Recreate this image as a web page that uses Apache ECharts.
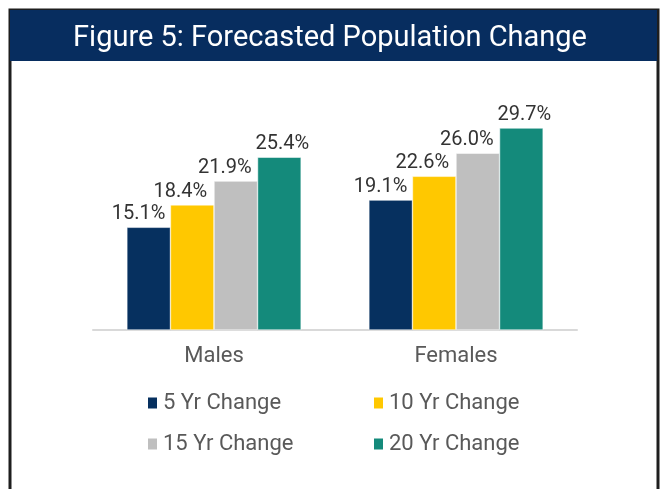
<!DOCTYPE html>
<html>
<head>
<meta charset="utf-8">
<script src="https://cdn.jsdelivr.net/npm/echarts@6/dist/echarts.min.js"></script>
<style>
  html, body { margin: 0; padding: 0; background: #fff; }
  #chart { width: 660px; height: 489px; }
</style>
</head>
<body>
<div id="chart"></div>
<script>
// 数据
const categories = ['Males', 'Females'];
const seriesNames = ['5 Yr Change', '10 Yr Change', '15 Yr Change', '20 Yr Change'];
const change5 = [15.1, 19.1];
const change10 = [18.4, 22.6];
const change15 = [21.9, 26.0];
const change20 = [25.4, 29.7];
const colors = ['#06305f', '#ffc800', '#bfbfbf', '#148a7b'];
// 标签水平偏移（避免重叠）
const labelShift = [-10, -12, -11, 3];

let chart = echarts.init(document.getElementById('chart'));

let values = [change5, change10, change15, change20];
let series = [];
for (let i = 0; i < seriesNames.length; i++) {
    series.push({
        name: seriesNames[i],
        type: 'bar',
        data: values[i],
        barGap: '0%',
        barCategoryGap: '28%',
        itemStyle: { color: colors[i], borderColor: '#fff', borderWidth: 0.5 },
        label: {
            show: true,
            position: 'top',
            distance: 3,
            offset: [labelShift[i], 0],
            color: '#333',
            fontSize: 20,
            fontFamily: 'Roboto',
            formatter: function (p) { return p.value.toFixed(1) + '%'; }
        }
    });
}

let option = {
    animation: false,
    backgroundColor: '#fff',
    title: {
        text: 'Figure 5: Forecasted Population Change',
        left: 'center',
        top: 24,
        padding: 0,
        textStyle: { color: '#fff', fontSize: 29, fontWeight: 'normal', fontFamily: 'Roboto' }
    },
    graphic: [
        // 外框
        { type: 'rect', z: -1, shape: { x: 10, y: 10, width: 648, height: 500 },
          style: { fill: '#fff', stroke: '#1e1e1e', lineWidth: 3 } },
        // 标题背景
        { type: 'rect', z: 0, shape: { x: 10, y: 10, width: 647, height: 51 },
          style: { fill: '#072d5f' } }
    ],
    legend: {
        data: seriesNames,
        left: 146,
        top: 392,
        padding: 0,
        width: 440,
        itemWidth: 11,
        itemHeight: 13,
        itemGap: 19,
        icon: 'rect',
        textStyle: { color: '#595959', fontSize: 22, fontFamily: 'Roboto', width: 190, lineHeight: 22 }
    },
    grid: { left: 93, right: 83, top: 92, bottom: 159 },
    xAxis: {
        type: 'category',
        data: categories,
        axisTick: { show: false },
        axisLine: { lineStyle: { color: '#d9d9d9', width: 2 } },
        axisLabel: { color: '#595959', fontSize: 22, fontFamily: 'Roboto', margin: 15 }
    },
    yAxis: {
        type: 'value',
        min: 0,
        max: 35,
        show: false,
        splitLine: { show: false }
    },
    series: series
};

chart.setOption(option);
</script>
</body>
</html>
